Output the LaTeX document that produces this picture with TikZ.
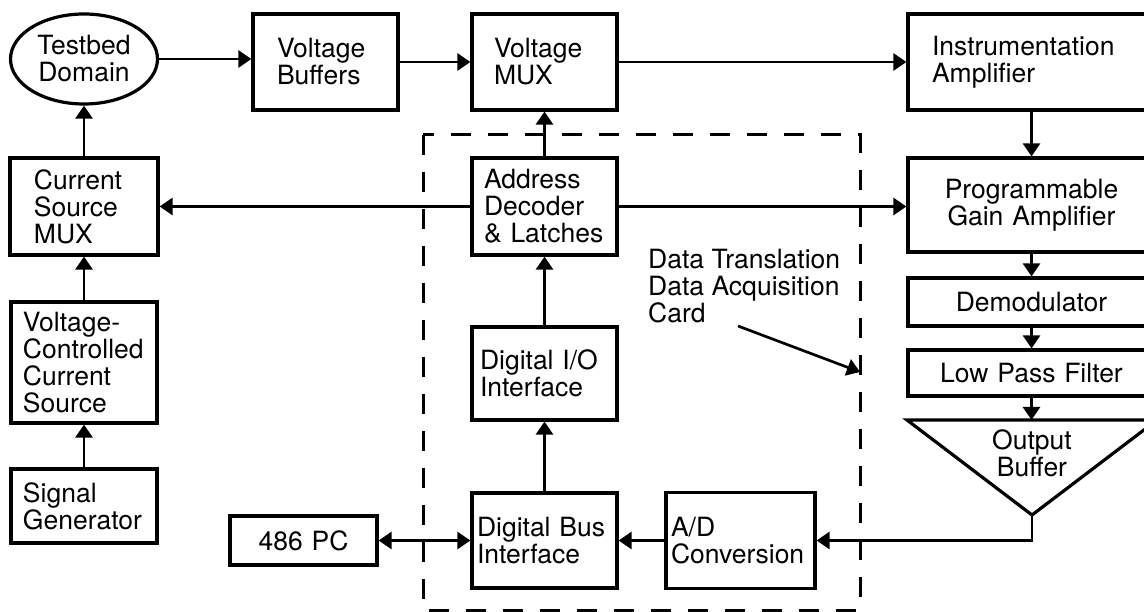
\documentclass[tikz,border=0pt]{standalone}
\usepackage{fontspec}
\setmainfont{TeX Gyre Heros}
\usepackage{tikz}
\usetikzlibrary{arrows.meta}
\usetikzlibrary{positioning}
\usetikzlibrary{shapes.geometric}

\begin{document}
\begin{tikzpicture}[x=1pt, y=-1pt,
  every node/.append style={font={\fontsize{26.5}{27}\selectfont}},
  blk/.style={draw, line width=3.2pt, inner ysep=0pt, align=left},
  cblk/.style={blk, align=center},
  arr/.style={line width=2.7pt, >={Triangle[length=13pt,width=17pt]}, ->},
  card/.style={line width=3pt, dash pattern=on 20pt off 17pt}]

  \useasboundingbox (0,0) rectangle (1144,612);
  \clip (0,0) rectangle (1144,612);

  % top row
  \node[draw, ellipse, line width=3.2pt, minimum width=147pt, minimum height=90pt,
        inner sep=0pt, align=center] (tb) at (84,59) {Testbed\\Domain};
  \node[blk, text width=97pt, inner xsep=24pt, minimum height=96pt] (vbuf) at (325.5,62) {Voltage\\Buffers};
  \node[blk, text width=101pt, inner xsep=22pt, minimum height=96pt] (vmux) at (544.5,62) {Voltage\\MUX};
  \node[blk, text width=199pt, inner xsep=24pt, minimum height=96pt] (inamp) at (1031.5,62) {Instrumentation\\Amplifier};

  % left column
  \node[blk, text width=100pt, inner xsep=24pt, minimum height=97pt] (csmux) at (84,206.5) {Current\\Source\\MUX};
  \node[blk, text width=122pt, inner xsep=12pt, minimum height=121pt] (vccs) at (84,362.5) {Voltage-\\Controlled\\Current\\Source};
  \node[blk, text width=122pt, inner xsep=12pt, minimum height=74pt] (sgen) at (84,506) {Signal\\Generator};
  \node[cblk, text width=127pt, inner xsep=10pt, minimum height=49pt] (pc) at (303.5,540.5) {486 PC};

  % data acquisition card
  \node[blk, text width=121pt, inner xsep=12pt, minimum height=97pt] (adec) at (544.5,206.5) {Address\\Decoder\\\& Latches};
  \node[blk, text width=129pt, inner xsep=8pt, minimum height=93pt] (dio) at (544.5,373.5) {Digital I/O\\Interface};
  \node[blk, text width=135pt, inner xsep=5pt, minimum height=95pt] (dbi) at (544.5,540.5) {Digital Bus\\Interface};
  \node[blk, text width=139pt, inner xsep=5pt, minimum height=96pt] (adc) at (740.5,540.5) {A/D\\Conversion};
  \draw[card] (423,135) rectangle (860,610);

  \node[anchor=north west, inner sep=0pt, align=left] (dtlabel) at (648,249)
    {Data Translation\\Data Acquisition\\Card};
  \coordinate (cardtail) at (738,326);
  \coordinate (cardtip) at (860,372);

  % right column
  \node[cblk, text width=217pt, inner xsep=15pt, minimum height=94pt] (pga) at (1031.5,205) {Programmable\\Gain Amplifier};
  \node[cblk, text width=217pt, inner xsep=15pt, minimum height=48pt] (demod) at (1031.5,302) {Demodulator};
  \node[cblk, text width=217pt, inner xsep=15pt, minimum height=46pt] (lpf) at (1031.5,373) {Low Pass Filter};
  \draw[line width=3.2pt] (907,420) -- (1157,420) -- (1032,515) -- cycle;
  \node[align=center] (obuf) at (1032,453) {Output\\Buffer};
  \coordinate (obtop) at (1031.5,420);
  \coordinate (obtip) at (1032,515);

  % signal path
  \draw[arr] (tb.east) -- (tb.east -| vbuf.west);
  \draw[arr] (vbuf) -- (vmux);
  \draw[arr] (vmux) -- (inamp);
  \draw[arr] (inamp) -- (pga);
  \draw[arr] (pga) -- (demod);
  \draw[arr] (demod) -- (lpf);
  \draw[arr] (lpf) -- (obtop);
  \draw[arr] (obtip) |- (adc.east);
  \draw[arr] (adc) -- (dbi);
  \draw[arr, <->] (pc) -- (dbi);
  \draw[arr] (dbi) -- (dio);
  \draw[arr] (dio) -- (adec);
  \draw[arr] (adec) -- (vmux);
  \draw[arr] (adec) -- (csmux);
  \draw[arr] (adec.east) -- (adec.east -| pga.west);
  \draw[arr] (sgen) -- (vccs);
  \draw[arr] (vccs) -- (csmux);
  \draw[arr] (csmux) -- (tb);
  \draw[arr] (cardtail) -- (cardtip);
\end{tikzpicture}
\end{document}
